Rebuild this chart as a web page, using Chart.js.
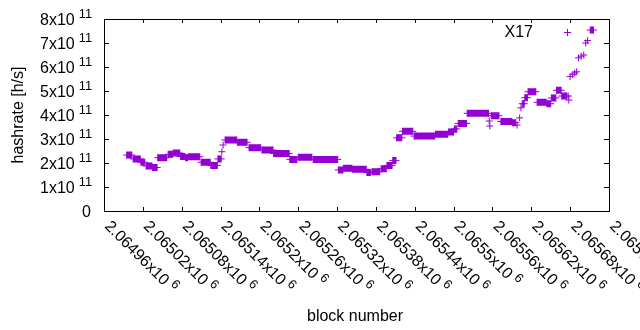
<!DOCTYPE html>
<html>
<head>
<meta charset="utf-8">
<script src="https://cdn.jsdelivr.net/npm/chart.js@4/dist/chart.umd.min.js"></script>
<style>
  html, body { margin: 0; padding: 0; background: #fff; }
  #wrap { width: 640px; height: 330px; }
</style>
</head>
<body>
<div id="wrap"><canvas id="c" width="640" height="330"></canvas></div>
<script>
const runStart = [2064995, 2065005, 2065017, 2065025, 2065035, 2065043, 2065059, 2065067, 2065078, 2065086,
  2065090, 2065110, 2065125, 2065136, 2065142, 2065144, 2065147, 2065166, 2065184, 2065204,
  2065222, 2065247, 2065260, 2065283, 2065322, 2065330, 2065344, 2065366, 2065374, 2065388,
  2065397, 2065406, 2065412, 2065421, 2065439, 2065472, 2065492, 2065501, 2065507, 2065521,
  2065555, 2065556, 2065558, 2065573, 2065591, 2065598, 2065602, 2065604, 2065606, 2065610,
  2065615, 2065629, 2065644, 2065651, 2065659, 2065667, 2065677, 2065678, 2065680, 2065684,
  2065687, 2065690, 2065693, 2065697, 2065701, 2065704, 2065707, 2065711];
const runEnd = [2065003, 2065016, 2065023, 2065034, 2065042, 2065057, 2065066, 2065077, 2065085, 2065089,
  2065108, 2065124, 2065135, 2065141, 2065142, 2065144, 2065165, 2065181, 2065202, 2065221,
  2065246, 2065258, 2065281, 2065321, 2065329, 2065343, 2065365, 2065372, 2065386, 2065396,
  2065405, 2065411, 2065420, 2065437, 2065471, 2065491, 2065500, 2065505, 2065520, 2065554,
  2065555, 2065556, 2065570, 2065590, 2065596, 2065598, 2065602, 2065604, 2065609, 2065614,
  2065627, 2065643, 2065650, 2065658, 2065666, 2065675, 2065677, 2065678, 2065680, 2065684,
  2065687, 2065690, 2065693, 2065697, 2065701, 2065704, 2065707, 2065716];
const runRate = [2.33, 2.17, 2.03, 1.875, 1.81, 2.22, 2.36, 2.42, 2.27, 2.22,
  2.26, 2.03, 1.9, 2.17, 2.47, 2.75, 2.96, 2.86, 2.64, 2.54,
  2.4, 2.15, 2.24, 2.15, 1.71, 1.78, 1.74, 1.6, 1.64, 1.76,
  1.9, 2.1, 3.05, 3.32, 3.12, 3.2, 3.29, 3.42, 3.65, 4.07,
  3.75, 3.54, 3.97, 3.73, 3.68, 3.58, 3.88, 4.3, 4.47, 4.72,
  4.97, 4.53, 4.47, 4.71, 5.03, 4.79, 4.79, 4.62, 5.6, 5.68,
  5.75, 5.8, 6.38, 6.45, 6.5, 7.0, 7.1, 7.54];

const xTicks = [2064960, 2065020, 2065080, 2065140, 2065200, 2065260, 2065320,
  2065380, 2065440, 2065500, 2065560, 2065620, 2065680, 2065740];
const xTickLabels = ["2.06496", "2.06502", "2.06508", "2.06514", "2.0652", "2.06526", "2.06532",
  "2.06538", "2.06544", "2.0655", "2.06556", "2.06562", "2.06568", "2.06574"];
const yTicks = [0, 1, 2, 3, 4, 5, 6, 7, 8];
const yTickLabels = ["0", "1", "2", "3", "4", "5", "6", "7", "8"];
const seriesName = "X17";

const PURPLE = "#9400D3";
const FONT = "16px 'Liberation Sans', Arial, sans-serif";
const SUP = "12.8px 'Liberation Sans', Arial, sans-serif";

// one polyline piece per run, broken by a null so runs never join
const points = [];
runStart.forEach((s, i) => {
  points.push({ x: s, y: runRate[i] });
  if (runEnd[i] !== s) points.push({ x: runEnd[i], y: runRate[i] });
  points.push({ x: runEnd[i], y: null });
});

function cross(ctx, x, y) {
  ctx.beginPath();
  ctx.moveTo(x - 3.5, y); ctx.lineTo(x + 3.5, y);
  ctx.moveTo(x, y - 3.5); ctx.lineTo(x, y + 3.5);
  ctx.stroke();
}

const frame = {
  id: "frame",
  beforeDatasetsDraw(chart) {
    const { ctx, chartArea: a, scales: { x, y } } = chart;
    ctx.save();
    ctx.strokeStyle = "#000"; ctx.lineWidth = 1;
    ctx.beginPath();
    xTicks.forEach((t) => {
      const px = Math.round(x.getPixelForValue(t)) + 0.5;
      ctx.moveTo(px, a.bottom); ctx.lineTo(px, a.bottom - 4);
      ctx.moveTo(px, a.top); ctx.lineTo(px, a.top + 4);
    });
    yTicks.forEach((t) => {
      const py = Math.round(y.getPixelForValue(t)) + 0.5;
      ctx.moveTo(a.left, py); ctx.lineTo(a.left + 5, py);
      ctx.moveTo(a.right, py); ctx.lineTo(a.right - 5, py);
    });
    ctx.stroke();
    ctx.strokeRect(Math.round(a.left) + 0.5, Math.round(a.top) + 0.5,
      Math.round(a.right - a.left), Math.round(a.bottom - a.top));
    ctx.restore();
  },
  afterDraw(chart) {
    const { ctx, scales: { x, y } } = chart;
    ctx.save();
    ctx.fillStyle = "#000";
    ctx.textBaseline = "alphabetic";
    ctx.textAlign = "left";
    // y tick labels, right-justified
    yTicks.forEach((t, i) => {
      const py = y.getPixelForValue(t);
      if (t === 0) {
        ctx.font = FONT; ctx.textAlign = "right";
        ctx.fillText(yTickLabels[i], 91, py + 5.5);
        ctx.textAlign = "left";
        return;
      }
      const main = yTickLabels[i] + "x10";
      ctx.font = FONT; const mw = ctx.measureText(main).width;
      ctx.font = SUP; const sw = ctx.measureText("11").width;
      const x0 = 92 - (mw + 4 + sw);
      ctx.font = FONT; ctx.fillText(main, x0, py + 5.5);
      ctx.font = SUP; ctx.fillText("11", x0 + mw + 4, py - 1);
    });
    // x tick labels, rotated by -45 (down-right)
    xTicks.forEach((t, i) => {
      const px = x.getPixelForValue(t);
      ctx.save();
      ctx.translate(px, 227);
      ctx.rotate(Math.PI / 4);
      const main = xTickLabels[i] + "x10";
      ctx.font = FONT; ctx.fillText(main, 0, 0);
      const mw = ctx.measureText(main).width;
      ctx.font = SUP; ctx.fillText("6", mw + 4, -6);
      ctx.restore();
    });
    // axis titles
    ctx.font = FONT;
    ctx.textAlign = "center";
    ctx.fillText("block number", 355, 321);
    ctx.save();
    ctx.translate(23, 115);
    ctx.rotate(-Math.PI / 2);
    ctx.fillText("hashrate [h/s]", 0, 0);
    ctx.restore();
    // key
    ctx.textAlign = "right";
    ctx.fillText(seriesName, 533, 37);
    ctx.strokeStyle = PURPLE; ctx.lineWidth = 1;
    cross(ctx, 567.5, 32.5);
    ctx.restore();
  },
};

new Chart(document.getElementById("c"), {
  type: "scatter",
  data: {
    datasets: [{
      label: seriesName,
      data: points,
      showLine: true,
      spanGaps: false,
      borderColor: PURPLE,
      backgroundColor: PURPLE,
      borderWidth: 7,
      borderCapStyle: "butt",
      pointStyle: "cross",
      pointRadius: 3.5,
      pointBorderWidth: 1,
      pointBorderColor: PURPLE,
      pointHoverRadius: 3.5,
    }],
  },
  options: {
    responsive: false,
    devicePixelRatio: 1,
    animation: false,
    events: [],
    layout: { padding: { left: 104, right: 31, top: 19, bottom: 119 } },
    plugins: { legend: { display: false }, tooltip: { enabled: false } },
    scales: {
      x: { type: "linear", display: false, min: 2064960, max: 2065740 },
      y: { type: "linear", display: false, min: 0, max: 8 },
    },
  },
  plugins: [frame],
});
</script>
</body>
</html>
